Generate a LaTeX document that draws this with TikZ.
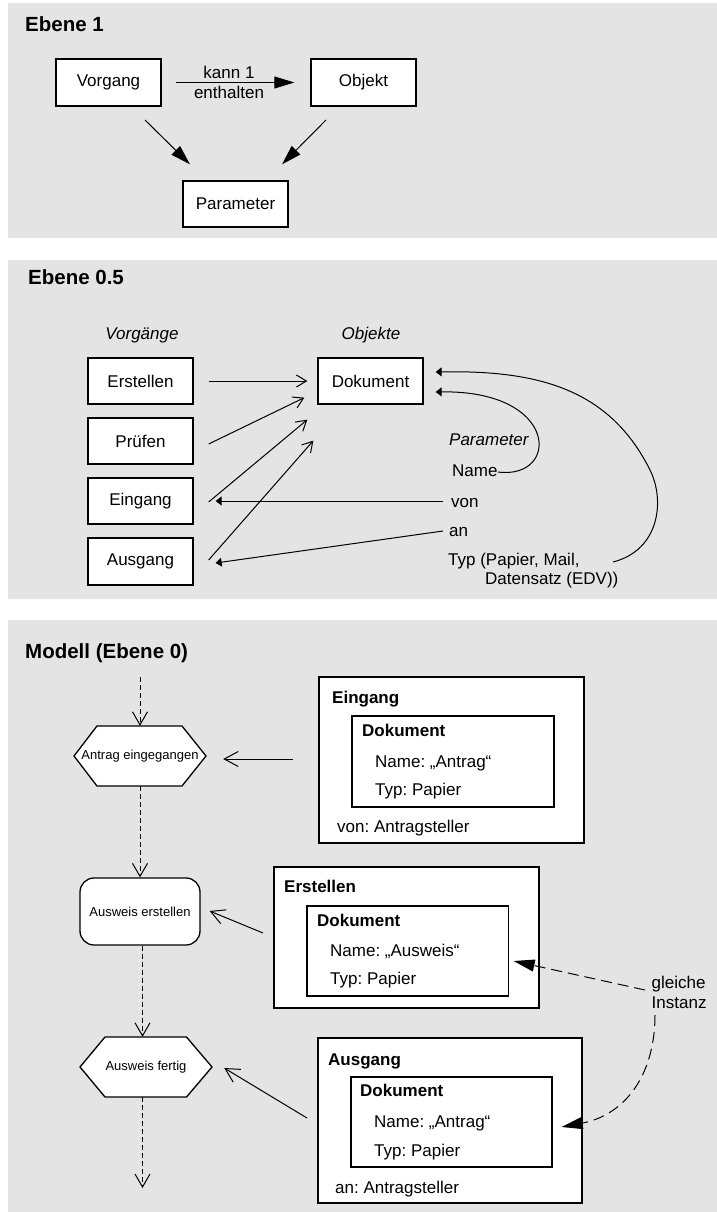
\documentclass[tikz,border=0pt]{standalone}
\usepackage{fontspec}
\setmainfont{Liberation Sans}
\usetikzlibrary{arrows.meta,calc}
\definecolor{panelgray}{HTML}{E4E4E4}
\newcommand\fBody{\fontsize{17}{20}\selectfont}
\newcommand\fHead{\fontsize{20.5}{24}\selectfont\bfseries}
\newcommand\fSmall{\fontsize{13}{15}\selectfont}
\frenchspacing

\begin{document}
\begin{tikzpicture}[x=1pt,y=-1pt,
  panel/.style={fill=panelgray,draw=none},
  box/.style={draw=black,fill=white,line width=1.3pt,inner sep=0pt,font=\fBody},
  shapeline/.style={draw=black,fill=white,line width=1.3pt},
  headline/.style={font=\fHead,anchor=base west,inner sep=0pt},
  txt/.style={font=\fBody,anchor=base west,inner sep=0pt},
  conn/.style={draw=black,line width=1pt},
  bigtip/.style={conn,-{Triangle[length=20pt,width=12pt]}},
  opentip/.style={conn,-{Straight Barb[length=10pt,width=12pt]}},
  sidetip/.style={conn,-{Straight Barb[length=14pt,width=15pt]}},
  flow/.style={conn,dash pattern=on 5pt off 3pt,-{Straight Barb[length=13pt,width=15pt]}},
  smalltip/.style={conn,-{Triangle[length=6pt,width=9pt]}},
  sametip/.style={conn,dash pattern=on 11pt off 6pt,-{Triangle[length=21pt,width=12pt]}},
]
\useasboundingbox (0,0) rectangle (717,1212);

% background panels
\fill[panel] (8,3) rectangle (717,238);
\fill[panel] (8,260) rectangle (717,599);
\fill[panel] (8,620) rectangle (717,1212);

% ---------- Ebene 1 ----------
\node[headline] (t1) at (25,32) {Ebene 1};
\node[box,minimum width=105pt,minimum height=47pt] (vorgang) at (108.5,82.5) {Vorgang};
\node[box,minimum width=105pt,minimum height=47pt] (objekt) at (363.5,82.5) {Objekt};
\node[box,minimum width=105pt,minimum height=46pt] (parameter) at (235.5,204) {Parameter};
\node[font=\fBody,align=center,inner sep=0pt] (kann) at (229,82) {kann 1\\enthalten};
\draw[bigtip] ([xshift=14pt]vorgang.east) -- ([xshift=-16pt]objekt.west);
\coordinate (vtail) at (145,120);
\coordinate (otail) at (326,120);
\draw[bigtip] (vtail) -- ([shift={(-45.5,-16)}]parameter.north);
\draw[bigtip] (otail) -- ([shift={(46.5,-16)}]parameter.north);

% ---------- Ebene 0.5 ----------
\node[headline] (t2) at (28,284) {Ebene 0.5};
\node[font=\fBody\itshape,anchor=base,inner sep=0pt] (vorgaenge) at (142,339) {Vorgänge};
\node[font=\fBody\itshape,anchor=base,inner sep=0pt] (objekte) at (371,339) {Objekte};
\node[box,minimum width=105pt,minimum height=46pt] (erst2) at (140.5,381) {Erstellen};
\node[box,minimum width=105pt,minimum height=46pt] (pruef) at (140.5,441) {Prüfen};
\node[box,minimum width=105pt,minimum height=46pt] (eing2) at (140.5,501) {Eingang};
\node[box,minimum width=105pt,minimum height=47pt] (ausg2) at (140.5,561.5) {Ausgang};
\node[box,minimum width=105pt,minimum height=46pt] (dok) at (370.5,381) {Dokument};

\draw[opentip] ([xshift=15pt]erst2.east) -- ([xshift=-10pt]dok.west);
\draw[opentip] ([shift={(15,3)}]pruef.east) -- ([shift={(-13,-7)}]dok.south west);
\draw[opentip] ([shift={(15,1)}]eing2.east) -- ([shift={(-10,15)}]dok.south west);
\draw[opentip] ([shift={(15,-1.5)}]ausg2.east) -- ([shift={(-4,36)}]dok.south west);

\node[txt,font=\fBody\itshape] (param) at (449,445) {Parameter};
\node[txt] (pname) at (452,476) {Name};
\node[txt] (pvon) at (451,507) {von};
\node[txt] (pan) at (449,536) {an};
\node[txt] (ptyp) at (448,565) {Typ (Papier, Mail,};
\node[txt] (ptyp2) at (485,584) {Datensatz (EDV))};

\coordinate (vonL) at (443,501);
\coordinate (anL) at (443,531);
\coordinate (nameR) at (498,472);
\coordinate (typR) at (613,562);
\draw[smalltip] (vonL) -- ([xshift=22pt]eing2.east);
\draw[smalltip] (anL) -- ([shift={(22,1.5)}]ausg2.east);
\draw[smalltip] (nameR) .. controls (560,480) and (560,390) .. ([shift={(12,11)}]dok.east);
\draw[smalltip] (typR) .. controls (660,550) and (665,500) .. (650,470)
  .. controls (610,390) and (540,370) .. ([shift={(12,-9)}]dok.east);

% ---------- Modell (Ebene 0) ----------
\node[headline] (t3) at (25,658) {Modell (Ebene 0)};

% event / function shapes of the process chain
\draw[shapeline] (74,756) -- (97,726) -- (182,726) -- (206,756) -- (182,786) -- (97,786) -- cycle;
\node[font=\fSmall,inner sep=0pt,minimum width=132pt,minimum height=60pt] (antrag) at (140,756) {Antrag eingegangen};
\node[box,font=\fSmall,rounded corners=14pt,minimum width=120pt,minimum height=67pt] (aerst) at (140,911.5) {Ausweis erstellen};
\draw[shapeline] (80,1067) -- (105,1037) -- (186.5,1037) -- (212,1067) -- (186.5,1097) -- (105,1097) -- cycle;
\node[font=\fSmall,inner sep=0pt,minimum width=132pt,minimum height=60pt] (fertig) at (146,1067) {Ausweis fertig};

\coordinate (flowtop) at (140,677);
\coordinate (flowend) at (142.5,1188);
\draw[flow] (flowtop) -- (antrag.north);
\draw[flow] (antrag.south) -- (aerst.north);
\draw[flow] ([xshift=2.5pt]aerst.south) -- ([xshift=-3.5pt]fertig.north);
\draw[flow] ([xshift=-3.5pt]fertig.south) -- (flowend);

% Eingang
\node[box,minimum width=265pt,minimum height=166pt] (eingbox) at (451.5,760) {};
\node[box,minimum width=202pt,minimum height=91pt] (eingdoc) at (453,761.5) {};
\node[txt,font=\fBody\bfseries] (eingT) at (332,703) {Eingang};
\node[txt,font=\fBody\bfseries] (eingD) at (362,736) {Dokument};
\node[txt] (eingN) at (375,767) {Name: „Antrag“};
\node[txt] (eingY) at (375,795) {Typ: Papier};
\node[txt] (eingV) at (337,832) {von: Antragsteller};

% Erstellen
\node[box,minimum width=265pt,minimum height=141pt] (erstbox) at (406.5,937.5) {};
\node[box,minimum width=201.5pt,minimum height=90pt] (erstdoc) at (407.75,951) {};
\node[txt,font=\fBody\bfseries] (erstT) at (284,892) {Erstellen};
\node[txt,font=\fBody\bfseries] (erstD) at (317,926) {Dokument};
\node[txt] (erstN) at (330,956) {Name: „Ausweis“};
\node[txt] (erstY) at (330,984) {Typ: Papier};

% Ausgang
\node[box,minimum width=264pt,minimum height=165pt] (ausgbox) at (450,1120.5) {};
\node[box,minimum width=201pt,minimum height=90pt] (ausgdoc) at (451.5,1122) {};
\node[txt,font=\fBody\bfseries] (ausgT) at (328,1065) {Ausgang};
\node[txt,font=\fBody\bfseries] (ausgD) at (360,1096) {Dokument};
\node[txt] (ausgN) at (374,1127) {Name: „Antrag“};
\node[txt] (ausgY) at (374,1156) {Typ: Papier};
\node[txt] (ausgA) at (335,1193) {an: Antragsteller};

% objects attached to the chain
\coordinate (eingTail) at (293,759);
\coordinate (erstTail) at (263,933);
\coordinate (ausgTail) at (307,1118);
\draw[sidetip] (eingTail) -- ([shift={(17,3)}]antrag.east);
\draw[sidetip] (erstTail) -- ([shift={(9,-0.5)}]aerst.east);
\draw[sidetip] (ausgTail) -- ([shift={(12,1)}]fertig.east);

% same instance
\node[txt] (gleiche) at (651.5,988) {gleiche};
\node[txt] (instanz) at (651.5,1008) {Instanz};
\coordinate (sameA) at (645,990);
\coordinate (sameB) at (655,1015);
\draw[sametip] (sameA) -- ([shift={(4.5,10)}]erstdoc.east);
\draw[sametip] (sameB) .. controls (655,1075) and (625,1115) .. ([shift={(9,5)}]ausgdoc.east);

\end{tikzpicture}
\end{document}
